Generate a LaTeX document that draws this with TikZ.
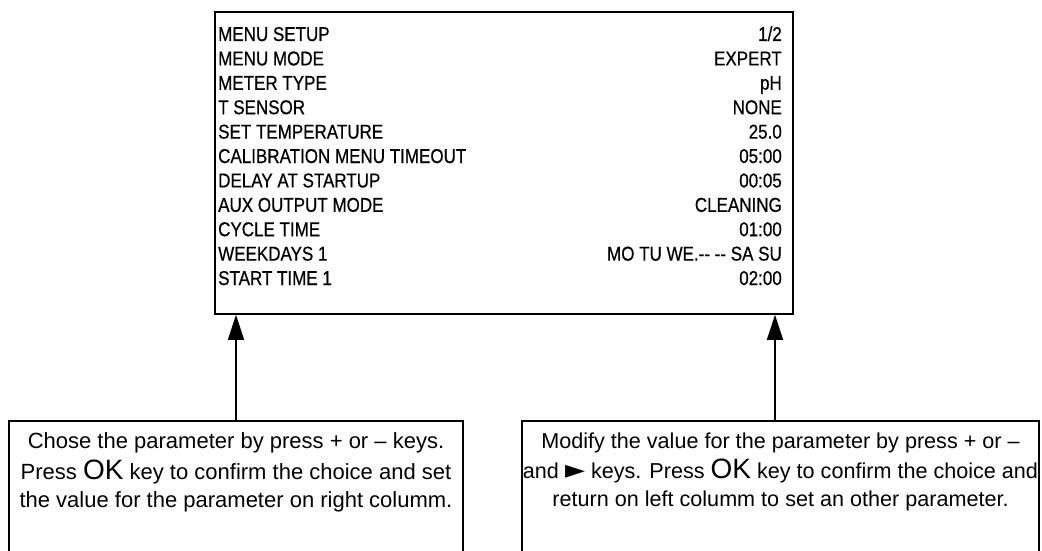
\documentclass[tikz,border=0pt]{standalone}
\usepackage{fontspec}
\setmainfont{Liberation Sans}
\newfontfamily\panelfont[FakeStretch=0.85,FakeBold=0.6]{Liberation Sans}
\newfontfamily\symfont{DejaVu Sans}
\usetikzlibrary{arrows.meta}
\tikzset{
  panel/.style={draw,line width=1.6pt,inner sep=0pt},
  menutext/.style={inner sep=0pt,font=\panelfont\fontsize{20}{22}\selectfont},
  notebox/.style={draw,line width=1.6pt,inner sep=0pt,anchor=north},
  notetext/.style={inner sep=0pt,align=center,anchor=base,font=\fontsize{22}{28}\selectfont},
  pointer/.style={line width=1.6pt,-{Triangle[width=16pt,length=25pt]}}
}
\newcommand{\okkey}{{\fontsize{28}{28}\selectfont OK}}
\newcommand{\rightkey}{{\symfont\fontsize{26}{28}\selectfont ►}}
\begin{document}
\begin{tikzpicture}[x=1pt,y=-1pt]
\clip (0,0) rectangle (1042,551);
\node[panel,minimum width=578pt,minimum height=302pt] (menu) at (504,163) {};
\foreach \lbl/\val [count=\i from 0] in {MENU SETUP/1\slash 2,MENU MODE/EXPERT,METER TYPE/pH,
  T SENSOR/NONE,SET TEMPERATURE/25.0,CALIBRATION MENU TIMEOUT/05:00,DELAY AT STARTUP/00:05,
  AUX OUTPUT MODE/CLEANING,CYCLE TIME/01:00,WEEKDAYS 1/MO TU WE.{-}{-} {-}{-} SA SU,START TIME 1/02:00}
{
  \node[menutext,anchor=base west] (row\i) at (218,{41+24.4*\i}) {\lbl};
  \node[menutext,anchor=base east] (val\i) at (782,{41+24.4*\i}) {\val};
}
\node[notebox,minimum width=454pt,minimum height=200pt] (choosebox) at (236,420) {};
\node[notebox,minimum width=517pt,minimum height=200pt] (modifybox) at (780.5,420) {};
% base anchor sits on the last line
\node[notetext] (choosetext) at (236,507) {Chose the parameter by press + or – keys.\\[3pt]
  Press \okkey{} key to confirm the choice and set\\the value for the parameter on right columm.};
\node[notetext,font=\fontsize{21.6}{28}\selectfont] (modifytext) at (780.5,506) {Modify the value for the parameter by press + or –\\[2pt]
  and \rightkey{} keys. Press \okkey{} key to confirm the choice and\\return on left columm to set an other parameter.};
\draw[pointer] (choosebox.north) -- (choosebox.north |- menu.south);
\draw[pointer] ([xshift=-5.5pt]modifybox.north) -- ([xshift=-5.5pt]modifybox.north |- menu.south);
\end{tikzpicture}
\end{document}
